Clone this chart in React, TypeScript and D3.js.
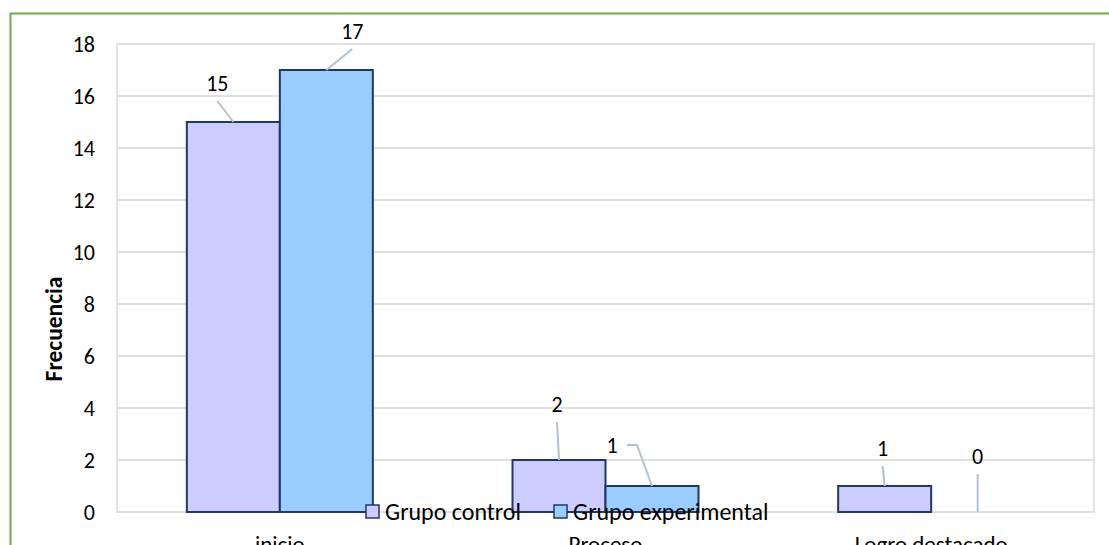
import React from "react";
import * as d3 from "d3";

const categories = ["inicio", "Proceso", "Logro destacado"];
const seriesNames = ["Grupo control", "Grupo experimental"];
const controlValues = [15, 2, 1];
const experimentalValues = [17, 1, 0];
const yTicks = [0, 2, 4, 6, 8, 10, 12, 14, 16, 18];
// label offsets (dx, dy) relative to bar top center
const labelOffsets = [
  [[-16, -39], [26, -39]],
  [[-2, -56], [-40, -41]],
  [[-2, -38], [0, -56]],
];

const colors = ["#ccccff", "#99ccff"];
const FONT = "Carlito, Calibri, 'Liberation Sans', Arial, sans-serif";

export default function App() {
  const W = 1109, H = 545;
  const left = 117, right = 1094, top = 44, bottom = 512;
  const x0 = d3.scaleBand().domain(categories).range([left, right]).paddingInner(0).paddingOuter(0);
  const y = d3.scaleLinear().domain([0, 18]).range([bottom, top]);
  const bw = 93;
  const series = [controlValues, experimentalValues];

  return (
    <svg width={W} height={H} style={{ position: "absolute", left: 0, top: 0 }}>
      <rect x={0} y={0} width={W} height={H} fill="#fff" />
      <path d={`M10.5,${H + 5} V13.5 H${W + 5}`} fill="none" stroke="#70ad47" strokeWidth={2} />
      <rect x={left} y={top} width={right - left} height={bottom - top} fill="#fff" stroke="#e3e3e3" strokeWidth={2} />
      {yTicks.map((t) => (
        <g key={t}>
          <line x1={left} x2={right} y1={y(t)} y2={y(t)} stroke="#e0e0e0" strokeWidth={2} />
          <text x={95} y={y(t)} dy="0.35em" textAnchor="end" fontFamily={FONT} fontSize={22} fill="#000">{t}</text>
        </g>
      ))}
      {categories.map((c, i) => {
        const cx = (x0(c) as number) + x0.bandwidth() / 2;
        return (
          <g key={c}>
            {series.map((vals, s) => {
              const bx = cx - bw + s * bw;
              const v = vals[i];
              if (v === 0) return null;
              return (
                <rect key={s} x={bx} y={y(v)} width={bw} height={y(0) - y(v)} fill={colors[s]} stroke="#1f3864" strokeWidth={2} />
              );
            })}
            <text x={cx} y={552} textAnchor="middle" fontFamily={FONT} fontSize={23} fill="#000">{c}</text>
          </g>
        );
      })}
      {categories.map((c, i) => {
        const cx = (x0(c) as number) + x0.bandwidth() / 2;
        return series.map((vals, s) => {
          const bxc = cx - bw / 2 + s * bw;
          const v = vals[i];
          const [dx, dy] = labelOffsets[i][s];
          const lx = bxc + dx, ly = y(v) + dy;
          let path: string;
          if (i === 1 && s === 1) {
            path = `M${lx + 15},${ly} H${lx + 25} L${bxc},${y(v)}`;
          } else {
            path = `M${lx},${ly + 18} L${bxc},${y(v)}`;
          }
          return (
            <g key={`${i}-${s}`}>
              <path d={path} fill="none" stroke="#b4c0d0" strokeWidth={2} />
              <text x={lx} y={ly} dy="0.35em" textAnchor="middle" fontFamily={FONT} fontSize={22} fill="#000">{v}</text>
            </g>
          );
        });
      })}
      <text transform="translate(54,329) rotate(-90)" textAnchor="middle" dy="0.35em" fontFamily={FONT} fontSize={23.5} fontWeight="bold" fill="#000">Frecuencia</text>
      {seriesNames.map((n, s) => {
        const sx = s === 0 ? 366 : 554;
        return (
          <g key={n}>
            <rect x={sx} y={505} width={13} height={13} fill={colors[s]} stroke="#1f3864" strokeWidth={1.5} />
            <text x={sx + 19} y={512} dy="0.35em" fontFamily={FONT} fontSize={24} fill="#000">{n}</text>
          </g>
        );
      })}
    </svg>
  );
}
